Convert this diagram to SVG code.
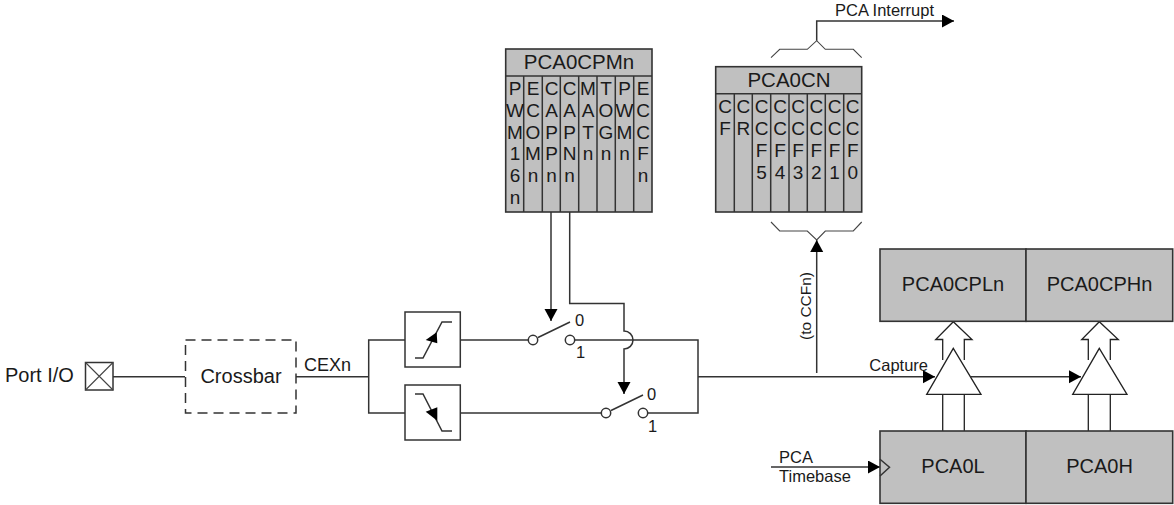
<svg xmlns="http://www.w3.org/2000/svg" width="1174" height="505" viewBox="0 0 1174 505">
<style>
text{font-family:"Liberation Sans",Arial,sans-serif;fill:#1a1a1a;font-size:16.5px}
.lg{font-size:20px}.hd{font-size:20.5px}.md{font-size:18px}.mid{text-anchor:middle}
.reg{fill:#c0c0c0;stroke:#333;stroke-width:1.6}
.ln{fill:none;stroke:#333;stroke-width:1.5}
.thin{fill:none;stroke:#444;stroke-width:1.1}
.wh{fill:#fff;stroke:#222;stroke-width:1.3}
.box{fill:#fff;stroke:#333;stroke-width:1.5}
.ar{fill:#000;stroke:none}
.col text{font-size:19px;text-anchor:middle}
</style>
<defs>
<marker id="a" markerUnits="userSpaceOnUse" markerWidth="14" markerHeight="14" refX="12" refY="6.5" orient="auto"><path d="M0 0L12 6.5L0 13z" class="ar"/></marker>
</defs>
<rect width="1174" height="505" fill="#fff"/>

<g id="connectors">
<path class="ln" d="M113 376.7H185"/>
<path class="ln" d="M296 376.7H368.7"/>
<path class="ln" d="M405 340H368.7V413H405"/>
<path class="ln" d="M460.3 340H528"/>
<path class="ln" d="M460.3 413H601"/>
<path class="ln" d="M575 340H698V413H648"/>
<path class="ln" d="M698 376.7H935" marker-end="url(#a)"/>
<path class="ln" d="M816.7 373V240" marker-end="url(#a)"/>
<path class="ln" d="M551 212V321" marker-end="url(#a)"/>
<path class="ln" d="M569.7 212V303.5H624V331A9 9 0 0 1 624 349V394" marker-end="url(#a)"/>
<path class="ln" d="M970.5 376.7H1081" marker-end="url(#a)"/>
<path class="ln" d="M771 467H880" marker-end="url(#a)"/>
<path class="ln" d="M816.7 40.7V21H954" marker-end="url(#a)"/>
<path class="thin" d="M771 57.7L779.7 49.3H807.3L816.7 40.7L825.3 49.3H853.3L861.7 57.7"/>
<path class="thin" d="M771 222L779.7 231H807.3L816.7 240L825.3 231H853.3L861.7 222"/>
</g>

<g id="port-io">
<text class="lg" x="5" y="382">Port I/O</text>
<rect class="box" x="85.5" y="362.5" width="27.5" height="27.5"/>
<path class="thin" d="M85.5 362.5L113 390M113 362.5L85.5 390"/>
</g>

<g id="crossbar">
<rect x="185.5" y="340" width="110.5" height="73" fill="#fff" stroke="#333" stroke-width="1.5" stroke-dasharray="10 6"/>
<text class="lg mid" x="241" y="382.5">Crossbar</text>
</g>
<text id="cexn" class="md" x="304" y="370.5">CEXn</text>

<g id="rising-edge">
<rect class="box" x="405" y="312" width="55.3" height="55"/>
<path class="ln" d="M415 358H423L442 322H452"/>
<path class="ar" d="M436.7 332.3L437.3 343.3L425.7 340z"/>
</g>
<g id="falling-edge">
<rect class="box" x="405" y="385" width="55.3" height="55"/>
<path class="ln" d="M415 394H423L442 431H452"/>
<path class="ar" d="M425.7 411.7L437.3 407.3L437.3 420.7z"/>
</g>

<g id="switch-1">
<circle class="box" cx="533" cy="340" r="4.7"/>
<circle class="box" cx="570" cy="340" r="4.7"/>
<path class="ln" d="M538 337.5L570 322"/>
<text x="575" y="326">0</text>
<text x="576" y="358">1</text>
</g>
<g id="switch-2">
<circle class="box" cx="606" cy="413" r="4.7"/>
<circle class="box" cx="643" cy="413" r="4.7"/>
<path class="ln" d="M611 410.5L643 395"/>
<text x="647" y="400">0</text>
<text x="648" y="432">1</text>
</g>

<g id="pca0cpmn">
<rect class="reg" x="505.7" y="49" width="146.3" height="163"/>
<path class="ln" d="M505.7 76H652M523.7 76V212M542.3 76V212M560.3 76V212M578.7 76V212M597 76V212M615.3 76V212M633.7 76V212"/>
<text class="hd mid" x="579" y="69">PCA0CPMn</text>
<g class="col">
<text x="515" y="95">P</text><text x="515" y="116.7">W</text><text x="515" y="138.5">M</text><text x="515" y="160.3">1</text><text x="515" y="182">6</text><text x="515" y="204">n</text>
<text x="533" y="95">E</text><text x="533" y="116.7">C</text><text x="533" y="138.5">O</text><text x="533" y="160.3">M</text><text x="533" y="182">n</text>
<text x="551.5" y="95">C</text><text x="551.5" y="116.7">A</text><text x="551.5" y="138.5">P</text><text x="551.5" y="160.3">P</text><text x="551.5" y="182">n</text>
<text x="569.5" y="95">C</text><text x="569.5" y="116.7">A</text><text x="569.5" y="138.5">P</text><text x="569.5" y="160.3">N</text><text x="569.5" y="182">n</text>
<text x="588" y="95">M</text><text x="588" y="116.7">A</text><text x="588" y="138.5">T</text><text x="588" y="160.3">n</text>
<text x="606" y="95">T</text><text x="606" y="116.7">O</text><text x="606" y="138.5">G</text><text x="606" y="160.3">n</text>
<text x="624.5" y="95">P</text><text x="624.5" y="116.7">W</text><text x="624.5" y="138.5">M</text><text x="624.5" y="160.3">n</text>
<text x="643" y="95">E</text><text x="643" y="116.7">C</text><text x="643" y="138.5">C</text><text x="643" y="160.3">F</text><text x="643" y="182">n</text>
</g>
</g>

<g id="pca0cn">
<rect class="reg" x="715.7" y="66.7" width="146" height="145.3"/>
<path class="ln" d="M715.7 93.7H861.7M734.3 93.7V212M752.3 93.7V212M770.7 93.7V212M789 93.7V212M807.3 93.7V212M825.3 93.7V212M843.7 93.7V212"/>
<text class="hd mid" x="789" y="86.5">PCA0CN</text>
<g class="col">
<text x="725" y="113">C</text><text x="725" y="135">F</text>
<text x="743.3" y="113">C</text><text x="743.3" y="135">R</text>
<text x="761.5" y="113">C</text><text x="761.5" y="135">C</text><text x="761.5" y="157">F</text><text x="761.5" y="179">5</text>
<text x="780" y="113">C</text><text x="780" y="135">C</text><text x="780" y="157">F</text><text x="780" y="179">4</text>
<text x="798" y="113">C</text><text x="798" y="135">C</text><text x="798" y="157">F</text><text x="798" y="179">3</text>
<text x="816.3" y="113">C</text><text x="816.3" y="135">C</text><text x="816.3" y="157">F</text><text x="816.3" y="179">2</text>
<text x="834.5" y="113">C</text><text x="834.5" y="135">C</text><text x="834.5" y="157">F</text><text x="834.5" y="179">1</text>
<text x="852.7" y="113">C</text><text x="852.7" y="135">C</text><text x="852.7" y="157">F</text><text x="852.7" y="179">0</text>
</g>
</g>

<g id="labels">
<text x="835" y="16">PCA Interrupt</text>
<text x="811" y="340" transform="rotate(-90 811 340)" style="font-size:15.5px">(to CCFn)</text>
<text x="869.3" y="371">Capture</text>
<text x="779" y="462.5">PCA</text>
<text x="779" y="481.5">Timebase</text>
</g>

<g id="capture-low">
<path class="wh" d="M942.7 431V394.3M964.3 431V394.3"/>
<path class="wh" d="M942.7 360V339.5H935.7L953.3 321.7L972 339.5H964.3V360"/>
<path class="wh" d="M953.3 348.3L981 394.3H926.7z"/>
</g>
<g id="capture-high">
<path class="wh" d="M1088.3 431V394.3M1110.3 431V394.3"/>
<path class="wh" d="M1088.3 360V339.5H1081.7L1099.3 321.7L1118.3 339.5H1110.3V360"/>
<path class="wh" d="M1099.3 348.3L1127 394.3H1072.7z"/>
</g>

<g id="pca0cplh">
<rect class="reg" x="880" y="249" width="146" height="72.3"/>
<rect class="reg" x="1026" y="249" width="146.7" height="72.3"/>
<text class="lg mid" x="953" y="291">PCA0CPLn</text>
<text class="lg mid" x="1099.5" y="291">PCA0CPHn</text>
</g>
<g id="pca0lh">
<rect class="reg" x="880" y="431" width="146" height="72.3"/>
<rect class="reg" x="1026" y="431" width="146.7" height="72.3"/>
<path class="ln" d="M880 459.3L889.5 467.3L880 476"/>
<text class="lg mid" x="953" y="473">PCA0L</text>
<text class="lg mid" x="1099.5" y="473">PCA0H</text>
</g>
</svg>
